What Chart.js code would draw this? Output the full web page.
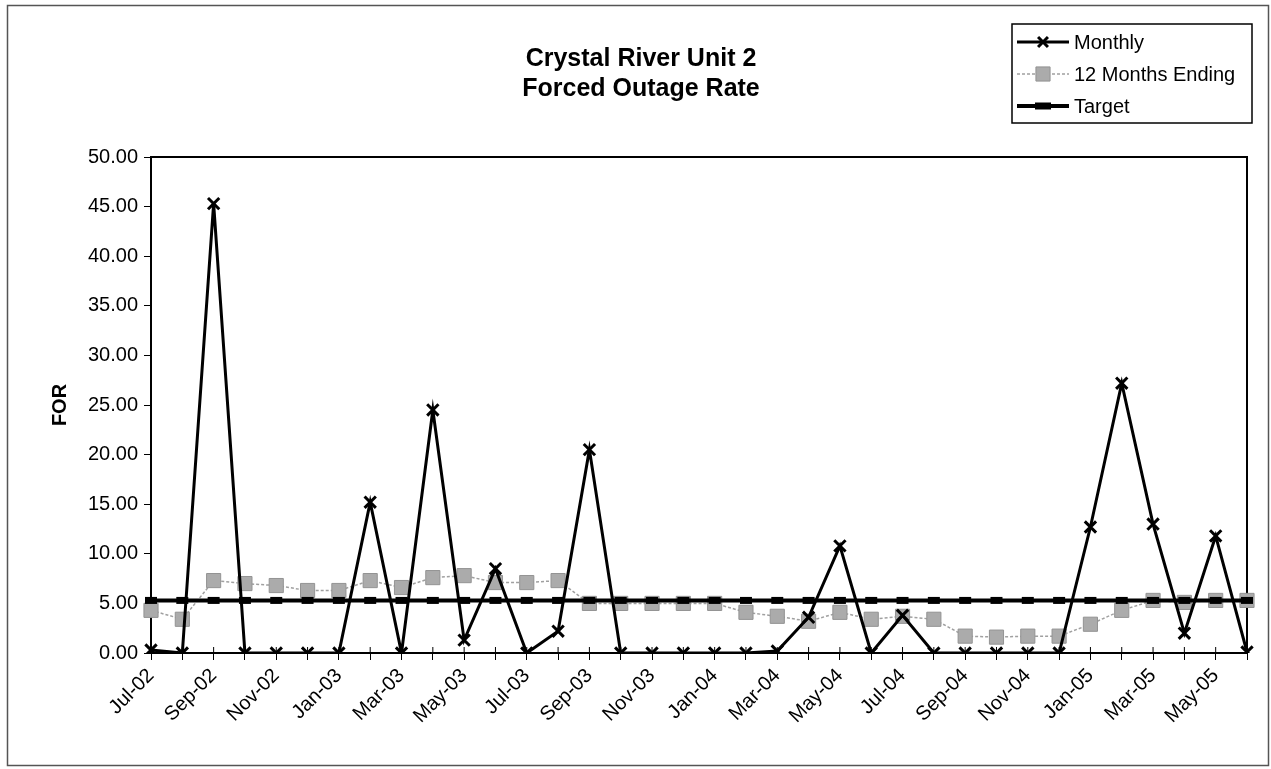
<!DOCTYPE html>
<html>
<head>
<meta charset="utf-8">
<title>Crystal River Unit 2 - Forced Outage Rate</title>
<script src="https://cdn.jsdelivr.net/npm/chart.js@4.4.1/dist/chart.umd.min.js"></script>
<style>
  html, body { margin: 0; padding: 0; background: #fff; }
</style>
</head>
<body>
<canvas id="myChart" width="1271" height="769"></canvas>
<script>
// months on the x axis
var months = ['Jul-02','Aug-02','Sep-02','Oct-02','Nov-02','Dec-02','Jan-03','Feb-03','Mar-03','Apr-03',
  'May-03','Jun-03','Jul-03','Aug-03','Sep-03','Oct-03','Nov-03','Dec-03','Jan-04','Feb-04',
  'Mar-04','Apr-04','May-04','Jun-04','Jul-04','Aug-04','Sep-04','Oct-04','Nov-04','Dec-04',
  'Jan-05','Feb-05','Mar-05','Apr-05','May-05','Jun-05'];

// FOR values
var monthly = [0.3, 0, 45.3, 0, 0, 0, 0, 15.2, 0, 24.5,
  1.3, 8.5, 0, 2.2, 20.5, 0, 0, 0, 0, 0,
  0.2, 3.6, 10.8, 0, 3.8, 0, 0, 0, 0, 0,
  12.7, 27.2, 13.0, 2.0, 11.8, 0.1];

var twelveMonths = [4.3, 3.4, 7.3, 7.0, 6.8, 6.3, 6.3, 7.3, 6.6, 7.6,
  7.8, 7.1, 7.1, 7.3, 5.0, 5.0, 5.0, 5.0, 5.0, 4.1,
  3.7, 3.2, 4.1, 3.4, 3.7, 3.4, 1.7, 1.6, 1.7, 1.7,
  2.9, 4.3, 5.3, 5.1, 5.3, 5.3];

var target = [5.3, 5.3, 5.3, 5.3, 5.3, 5.3, 5.3, 5.3, 5.3, 5.3,
  5.3, 5.3, 5.3, 5.3, 5.3, 5.3, 5.3, 5.3, 5.3, 5.3,
  5.3, 5.3, 5.3, 5.3, 5.3, 5.3, 5.3, 5.3, 5.3, 5.3,
  5.3, 5.3, 5.3, 5.3, 5.3, 5.3];

var yTicks = [0, 5, 10, 15, 20, 25, 30, 35, 40, 45, 50];

Chart.defaults.font.family = '"Liberation Sans", Arial, sans-serif';
Chart.defaults.color = '#000';

// outer frame, white background and plot area box
var framePlugin = {
  id: 'frame',
  beforeDraw: function(chart) {
    var ctx = chart.ctx;
    ctx.save();
    ctx.fillStyle = '#fff';
    ctx.fillRect(0, 0, chart.width, chart.height);
    ctx.strokeStyle = '#555';
    ctx.lineWidth = 1.5;
    ctx.strokeRect(7.5, 5.5, 1261, 760);
    ctx.restore();
  },
  beforeDatasetsDraw: function(chart) {
    var a = chart.chartArea;
    var ctx = chart.ctx;
    ctx.save();
    ctx.strokeStyle = '#000';
    ctx.lineWidth = 2;
    ctx.strokeRect(a.left, a.top, a.right - a.left, a.bottom - a.top);
    // small tick stubs above the x axis too (excel "cross" ticks)
    var xs = chart.scales.x;
    ctx.lineWidth = 1;
    for (var i = 0; i < months.length; i++) {
      var px = xs.getPixelForValue(i);
      ctx.beginPath();
      ctx.moveTo(px, a.bottom);
      ctx.lineTo(px, a.bottom - 6);
      ctx.stroke();
    }
    ctx.restore();
  }
};

// excel style legend box in the top right corner
var legendBox = {
  id: 'legendBox',
  afterDraw: function(chart) {
    var ctx = chart.ctx;
    var bx = 1012, by = 24, bw = 240, bh = 99;
    ctx.save();
    ctx.fillStyle = '#fff';
    ctx.fillRect(bx, by, bw, bh);
    ctx.strokeStyle = '#000';
    ctx.lineWidth = 1.5;
    ctx.strokeRect(bx, by, bw, bh);

    var rows = [42, 74, 106];
    var order = [0, 1, 2];
    for (var i = 0; i < order.length; i++) {
      var ds = chart.data.datasets[order[i]];
      var y = rows[i];
      ctx.save();
      ctx.strokeStyle = ds.borderColor;
      ctx.lineWidth = ds.borderWidth;
      ctx.setLineDash(ds.borderDash || []);
      ctx.beginPath();
      ctx.moveTo(1017, y);
      ctx.lineTo(1069, y);
      ctx.stroke();
      ctx.setLineDash([]);
      ctx.strokeStyle = ds.pointBorderColor;
      ctx.fillStyle = ds.pointBackgroundColor;
      ctx.lineWidth = ds.pointBorderWidth;
      Chart.helpers.drawPoint(ctx, {
        pointStyle: ds.pointStyle,
        radius: ds.legendRadius,
        rotation: 0,
        borderWidth: ds.pointBorderWidth
      }, 1043, y);
      ctx.restore();
      ctx.fillStyle = '#000';
      ctx.font = '20px "Liberation Sans", Arial, sans-serif';
      ctx.textBaseline = 'middle';
      ctx.fillText(ds.label, 1074, y + 1);
    }
    ctx.restore();
  }
};

var ctx = document.getElementById('myChart').getContext('2d');
var chart = new Chart(ctx, {
  type: 'line',
  data: {
    labels: months,
    datasets: [{
      label: 'Monthly',
      data: monthly,
      order: 0,
      borderColor: '#000',
      borderWidth: 3,
      pointStyle: 'crossRot',
      pointRadius: 8,
      legendRadius: 7,
      pointBorderWidth: 3,
      pointBorderColor: '#000',
      pointBackgroundColor: '#000',
      tension: 0
    }, {
      label: '12 Months Ending',
      data: twelveMonths,
      order: 2,
      borderColor: '#a0a0a0',
      borderWidth: 1.5,
      borderDash: [3, 2],
      pointStyle: 'rect',
      pointRadius: 10,
      legendRadius: 10,
      pointBorderWidth: 1,
      pointBorderColor: '#939393',
      pointBackgroundColor: '#ababab',
      tension: 0
    }, {
      label: 'Target',
      data: target,
      order: 1,
      borderColor: '#000',
      borderWidth: 4,
      pointStyle: 'line',
      pointRadius: 6,
      legendRadius: 8,
      pointBorderWidth: 7,
      pointBorderColor: '#000',
      pointBackgroundColor: '#000',
      tension: 0
    }]
  },
  options: {
    responsive: false,
    animation: false,
    events: [],
    layout: { padding: { top: 5, left: 35, right: 24, bottom: 0 } },
    plugins: {
      legend: { display: false },
      tooltip: { enabled: false },
      title: {
        display: true,
        text: ['Crystal River Unit 2', 'Forced Outage Rate'],
        font: { size: 25, weight: 'bold' },
        lineHeight: 1.24,
        color: '#000',
        padding: { top: 39, bottom: 53 }
      }
    },
    scales: {
      x: {
        offset: false,
        grid: { display: true, drawOnChartArea: false, drawTicks: true, tickLength: 7, color: '#000' },
        border: { display: true, color: '#000', width: 2 },
        ticks: {
          autoSkip: false,
          maxRotation: 45,
          minRotation: 45,
          padding: 4,
          font: { size: 20 },
          callback: function(val, idx) {
            return idx % 2 === 0 ? months[idx] : '';
          }
        },
        afterFit: function(scale) { scale.height = 116; }
      },
      y: {
        min: yTicks[0],
        max: yTicks[yTicks.length - 1],
        title: {
          display: true,
          text: 'FOR',
          font: { size: 20, weight: 'bold' },
          padding: { top: 13, bottom: 0 }
        },
        grid: { display: true, drawOnChartArea: false, drawTicks: true, tickLength: 7, color: '#000' },
        border: { display: true, color: '#000', width: 2 },
        ticks: {
          stepSize: 5,
          padding: 6,
          font: { size: 20 },
          callback: function(v) { return Number(v).toFixed(2); }
        },
        afterFit: function(scale) { scale.width = 116; }
      }
    }
  },
  plugins: [framePlugin, legendBox]
});
</script>
</body>
</html>
